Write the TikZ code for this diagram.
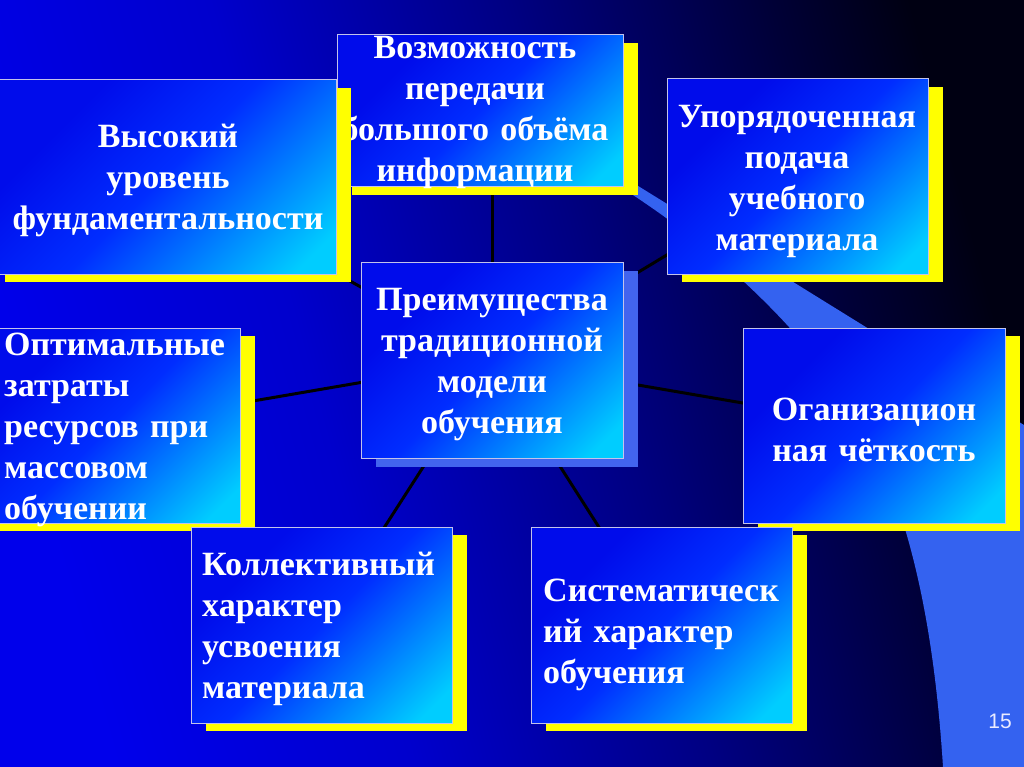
\documentclass[tikz,border=0pt]{standalone}
\usepackage{fontspec}
\setmainfont{Liberation Serif}
\newfontfamily\numfont{Liberation Sans}
\usetikzlibrary{shadows}
\definecolor{bxA}{RGB}{0,12,235}
\definecolor{bxB}{RGB}{0,45,255}
\definecolor{bxC}{RGB}{0,125,255}
\definecolor{bxD}{RGB}{0,205,255}
\definecolor{bgA}{RGB}{0,0,235}
\definecolor{bgB}{RGB}{0,0,205}
\definecolor{bgC}{RGB}{0,0,130}
\definecolor{bgD}{RGB}{0,0,55}
\definecolor{bgE}{RGB}{0,0,18}
\definecolor{bandcol}{RGB}{52,98,240}
\definecolor{csh}{RGB}{66,100,238}
\definecolor{rim}{RGB}{195,195,235}
\definecolor{shy}{RGB}{255,255,0}
\pgfdeclarehorizontalshading{boxshade}{100bp}{color(0bp)=(bxA); color(30bp)=(bxA); color(50bp)=(bxB); color(65bp)=(bxC); color(80bp)=(bxD); color(100bp)=(bxD)}
\pgfdeclarehorizontalshading{bgshade}{100bp}{color(0bp)=(bgA); color(25bp)=(bgA); color(40bp)=(bgB); color(55bp)=(bgC); color(68bp)=(bgD); color(75bp)=(bgE); color(100bp)=(bgE)}
\pgfdeclarelayer{bgl}
\pgfdeclarelayer{lines}
\pgfsetlayers{bgl,lines,main}
\tikzset{
  panel/.style={draw=rim, line width=1pt, shading=boxshade, shading angle=-45,
    anchor=north west, inner sep=0pt, outer sep=0pt},
  ysh/.style={drop shadow={shadow xshift=15pt, shadow yshift=-8pt, fill=shy, opacity=1}},
  bsh/.style={drop shadow={shadow xshift=15pt, shadow yshift=-9pt, fill=csh, opacity=1}},
  txt/.style={text=white, font=\fontsize{34}{41}\selectfont\bfseries, inner sep=0pt, anchor=base},
  txtl/.style={txt, align=left, anchor=base west},
  txtc/.style={txt, align=center},
  link/.style={line width=3pt, black}
}
\begin{document}
\begin{tikzpicture}[x=1pt,y=-1pt]
\useasboundingbox (0,0) rectangle (1024,767);
\begin{pgfonlayer}{bgl}
  \shade[shading=bgshade, shading angle=15] (0,0) rectangle (1024,767);
  \fill[bandcol] (622,176) -- (1024,425) -- (1024,767) -- (943,767)
     .. controls (935,640) and (915,540) .. (880,460)
     .. controls (830,350) and (720,250) .. (622,188) -- cycle;
\end{pgfonlayer}
% boxes
\node[panel, ysh, minimum width=286pt, minimum height=152pt] (b2) at (337,35) {};
\node[txtc, text width=340pt] (t2) at (475,59) {Возможность\\передачи\\большого объёма\\информации};
\node[panel, ysh, minimum width=346pt, minimum height=194pt] (b1) at (-10,80) {};
\node[txtc, text width=340pt] (t1) at (168,148) {Высокий\\уровень\\фундаментальности};
\node[panel, ysh, minimum width=261pt, minimum height=195pt] (b3) at (667,79) {};
\node[txtc, text width=260pt] (t3) at (797,128) {Упорядоченная\\подача\\учебного\\материала};
\node[panel, bsh, minimum width=262pt, minimum height=196pt] (c) at (361,262) {};
\node[txtc, text width=260pt] (tc) at (492,310) {Преимущества\\традиционной\\модели\\обучения};
\node[panel, ysh, minimum width=262pt, minimum height=195pt] (b4) at (743,328) {};
\node[txtc, text width=260pt] (t4) at (874,420) {Оганизацион\\ная чёткость};
\node[panel, ysh, minimum width=260pt, minimum height=195pt] (b7) at (-20,328) {};
\node[txtl, text width=250pt] (t7) at (4,355) {Оптимальные\\затраты\\ресурсов при\\массовом\\обучении};
\node[panel, ysh, minimum width=261pt, minimum height=196pt] (b6) at (191,527) {};
\node[txtl, text width=250pt] (t6) at (202,575) {Коллективный\\характер\\усвоения\\материала};
\node[panel, ysh, minimum width=261pt, minimum height=196pt] (b5) at (531,527) {};
\node[txtl, text width=250pt] (t5) at (543,601) {Систематическ\\ий характер\\обучения};
\node[text=white!92!blue, font=\numfont\fontsize{21}{25}\selectfont, inner sep=0pt, anchor=base] (pn) at (1000,728) {15};
% connectors
\begin{pgfonlayer}{lines}
  \draw[link] (c.center) -- (c.center |- b2.center);
  \draw[link] (c.center) -- (b1.center);
  \draw[link] (c.center) -- (b3.center);
  \draw[link] (c.center) -- (b4.center);
  \draw[link] (c.center) -- (b5.center);
  \draw[link] (c.center) -- (b6.center);
  \draw[link] (c.center) -- (b7.center);
\end{pgfonlayer}
\end{tikzpicture}
\end{document}
